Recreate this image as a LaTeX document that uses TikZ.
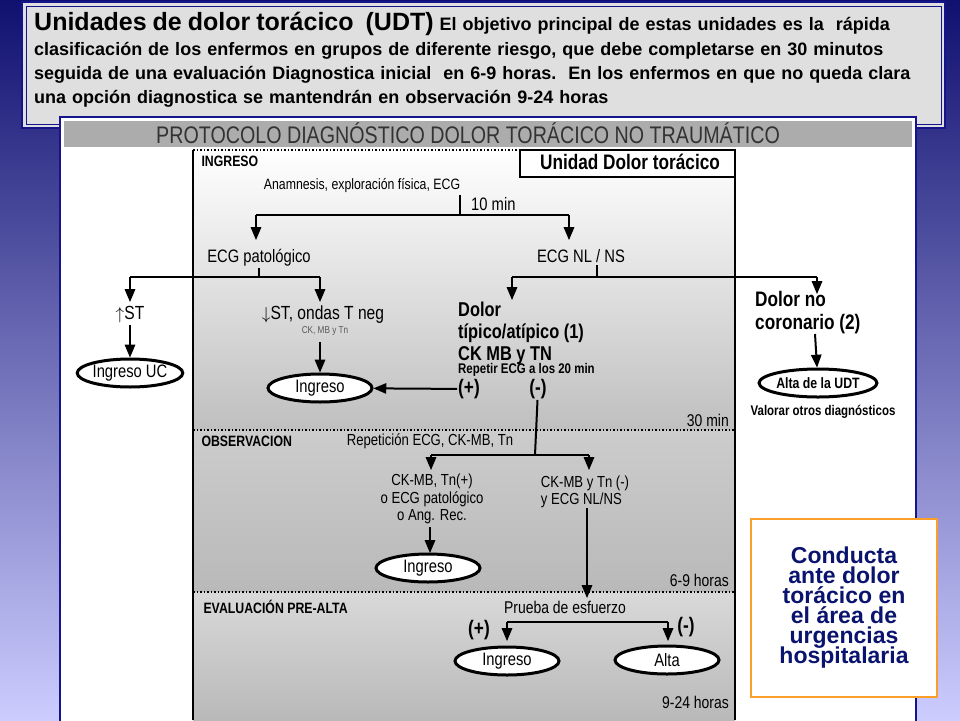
\documentclass[tikz,border=0pt]{standalone}
\usepackage{fontspec}
\setmainfont{Liberation Sans}
\newfontfamily\narrow[FakeStretch=0.82]{Liberation Sans}
\usetikzlibrary{arrows,shapes.geometric,backgrounds}
\definecolor{udtblue}{RGB}{20,20,140}
\definecolor{udtorange}{RGB}{250,160,40}
\definecolor{udttext}{RGB}{10,20,110}
\newcommand{\fs}[1]{\fontsize{#1}{#1}\selectfont}

\begin{document}
\begin{tikzpicture}[x=1pt,y=-1pt]
\tikzstyle{lbl} = [inner sep=1pt, font=\narrow\fs{15}];
\tikzstyle{big} = [inner sep=1pt, font=\narrow\fs{21}\bfseries, align=left];
\tikzstyle{oval} = [ellipse, draw, line width=3pt, fill=white, minimum width=104, minimum height=28, inner sep=0pt, font=\narrow\fs{18}];
\tikzstyle{line} = [draw, line width=2pt];
\tikzstyle{arr} = [draw, line width=2pt, -triangle 45];
\tikzstyle{sep} = [draw, line width=1.5pt, dotted];
\useasboundingbox (0,0) rectangle (960,720);
% background
\shade[top color=udtblue!80!black, bottom color=blue!20] (0,0) rectangle (960,720);
% title box
\draw[udtblue, line width=2pt, fill=gray!25] (22,2) rectangle (945,128);
\draw[udtblue, line width=1pt] (26,6) rectangle (941,124);
\node[anchor=north west, align=left, inner sep=0pt, font=\fs{18}\bfseries, text width=910] (title) at (34,12)
 {{\fs{25}Unidades de dolor torácico\ \ (UDT)} El objetivo principal de estas unidades es la\ \ rápida\\[6pt]
 clasificación de los enfermos en grupos de diferente riesgo, que debe completarse en 30 minutos\\[6pt]
 seguida de una evaluación Diagnostica inicial\ \ en 6-9 horas.\ \ En los enfermos en que no queda clara\\[6pt]
 una opción diagnostica se mantendrán en observación 9-24 horas};
% panel
\draw[udtblue, line width=2.5pt, fill=white] (60,117) rectangle (916,722);
\fill[gray!65] (64,121) rectangle (912,147);
\node[font=\narrow\fs{24}, text=black!80] (head) at (468,133) {PROTOCOLO DIAGNÓSTICO DOLOR TORÁCICO NO TRAUMÁTICO};
\shade[top color=white, bottom color=gray!50] (193,150) rectangle (735,430);
\shade[top color=gray!40, bottom color=gray!55] (193,430) rectangle (735,592);
\shade[top color=gray!30, bottom color=gray!55] (193,592) rectangle (735,720);
\draw[line width=1.5pt] (193,720) -- (193,150) (735,150) -- (735,720);
\draw[sep] (193,150) -- (735,150);
\draw[sep] (193,430) -- (735,430);
\draw[sep] (193,592) -- (735,592);
\draw[line width=1.5pt, fill=white] (520,150) rectangle (735,177);
\node[font=\narrow\fs{21}\bfseries] (udt) at (630,162) {Unidad Dolor torácico};
% section labels
\node[anchor=west, font=\narrow\fs{15}\bfseries] (ingreso) at (198,161) {INGRESO};
\node[anchor=west, font=\narrow\fs{15}\bfseries] (obs) at (198,441) {OBSERVACION};
\node[anchor=west, font=\narrow\fs{15}\bfseries] (preal) at (200,607) {EVALUACIÓN PRE-ALTA};
\node[anchor=east, lbl, font=\narrow\fs{17}] (t30) at (730,420) {30 min};
\node[anchor=east, lbl, font=\narrow\fs{17}] (t69) at (730,580) {6-9 horas};
\node[anchor=east, lbl, font=\narrow\fs{17}] (t924) at (730,702) {9-24 horas};
% ingreso
\node[lbl] (anam) at (362,186) {Anamnesis, exploración física, ECG};
\node[lbl, anchor=west, font=\narrow\fs{18}] (tmin) at (470,204) {10 min};
\node[lbl, font=\narrow\fs{18}] (ecgpat) at (259,258) {ECG patológico};
\node[lbl, font=\narrow\fs{18}] (ecgnl) at (581,256) {ECG NL / NS};
\node[lbl, font=\narrow\fs{19}] (stup) at (130,315) {$\uparrow$ST};
\node[lbl, font=\narrow\fs{19}] (stdown) at (323,315) {$\downarrow$ST, ondas T neg};
\node[inner sep=0pt, font=\narrow\fs{10}, text=gray!70!black] (ckmb) at (325,331) {CK, MB y Tn};
\node[oval] (ingresouc) at (130,373) {Ingreso UC};
\node[oval] (ingreso1) at (320,388) {Ingreso};
\node[big, anchor=north west, font=\narrow\fs{20}\bfseries] (dolor) at (457,301) {Dolor\\[2pt]típico/atípico (1)\\[2pt]CK MB y TN};
\node[anchor=west, inner sep=1pt, font=\narrow\fs{14}\bfseries] (repetir) at (457,370) {Repetir ECG a los 20 min};
\node[big] (pos1) at (469,389) {(+)};
\node[big] (neg1) at (538,389) {(-)};
\node[big, anchor=west] (nocor) at (754,313) {Dolor no\\[2pt]coronario (2)};
\node[oval, minimum width=108, font=\narrow\fs{15}\bfseries] (altaudt) at (818,383) {Alta de la UDT};
\node[inner sep=1pt, font=\narrow\fs{14}\bfseries] (valorar) at (823,412) {Valorar otros diagnósticos};
\coordinate (j1) at (460,215);
\coordinate (j2) at (259,277);
\coordinate (j3) at (597,277);
\path[line] (460,195) -- (j1);
\path[line] (256,215) -- (569,215);
\path[arr] (256,215) -- (256,240);
\path[arr] (569,215) -- (569,240);
\path[line] (ecgpat) -- (j2);
\path[line] (130,277) -- (320,277);
\path[arr] (130,277) -- (130,302);
\path[arr] (320,277) -- (320,302);
\path[line] (597,265) -- (j3);
\path[line] (512,277) -- (817,277);
\path[arr] (512,277) -- (512,300);
\path[arr] (817,277) -- (817,294);
\path[arr] (stup) -- (ingresouc);
\path[arr] (320,342) -- (ingreso1);
\path[arr] (pos1) -- (ingreso1);
\path[arr] (815,334) -- (altaudt);
% observacion
\node[lbl, font=\narrow\fs{16}] (repet) at (430,441) {Repetición ECG, CK-MB, Tn};
\node[lbl, align=center, font=\narrow\fs{16}\linespread{1.1}\selectfont] (ckpos) at (432,499) {CK-MB, Tn(+)\\o ECG patológico\\o Ang. Rec.};
\node[lbl, align=left, font=\narrow\fs{16}\linespread{1.1}\selectfont] (ckneg) at (585,492) {CK-MB y Tn (-)\\y ECG NL/NS};
\node[oval] (ingreso2) at (428,568) {Ingreso};
\coordinate (j4) at (535,455);
\path[line] (neg1) -- (j4);
\path[line] (431,455) -- (589,455);
\path[arr] (431,455) -- (431,470);
\path[arr] (589,455) -- (589,470);
\path[arr] (430,527) -- (430,553);
% pre-alta
\node[lbl, font=\narrow\fs{17}] (prueba) at (565,607) {Prueba de esfuerzo};
\coordinate (j5) at (587,598);
\path[arr] (587,508) -- (j5);
\node[big] (pos2) at (479,630) {(+)};
\node[big] (neg2) at (686,627) {(-)};
\node[oval] (ingreso3) at (507,661) {Ingreso};
\node[oval] (alta) at (667,660) {Alta};
\path[line] (507,622) -- (668,622);
\path[arr] (507,622) -- (507,641);
\path[arr] (668,622) -- (668,641);
% orange box
\node[draw=udtorange, line width=2.5pt, fill=white, minimum width=186, minimum height=178, align=center, text=udttext, font=\fs{23}\bfseries] (conducta) at (844,608)
 {Conducta\\[-3pt]ante dolor\\[-3pt]torácico en\\[-3pt]el área de\\[-3pt]urgencias\\[-3pt]hospitalaria};
\end{tikzpicture}
\end{document}
